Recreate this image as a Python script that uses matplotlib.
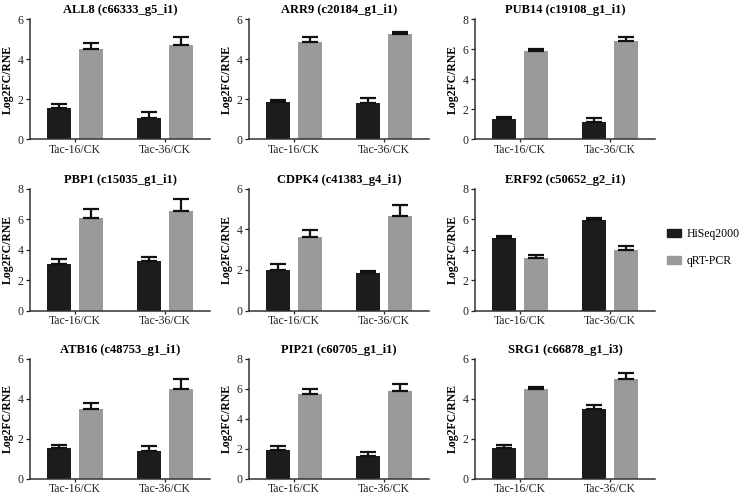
import matplotlib
matplotlib.use("Agg")
import matplotlib.pyplot as plt
import numpy as np
from matplotlib.patches import Patch

plt.rcParams['font.family'] = ['Liberation Serif', 'DejaVu Serif']

categories = ["Tac-16/CK", "Tac-36/CK"]
series_names = ["HiSeq2000", "qRT-PCR"]
titles = ["ALL8 (c66333_g5_i1)", "ARR9 (c20184_g1_i1)", "PUB14 (c19108_g1_i1)",
          "PBP1 (c15035_g1_i1)", "CDPK4 (c41383_g4_i1)", "ERF92 (c50652_g2_i1)",
          "ATB16 (c48753_g1_i1)", "PIP21 (c60705_g1_i1)", "SRG1 (c66878_g1_i3)"]
hiseq = [[1.57, 1.07], [1.83, 1.80], [1.31, 1.16],
         [3.07, 3.29], [2.02, 1.87], [4.75, 5.94],
         [1.53, 1.38], [1.91, 1.51], [1.55, 3.48]]
hiseq_err = [[0.16, 0.30], [0.13, 0.27], [0.13, 0.26],
             [0.33, 0.20], [0.27, 0.10], [0.18, 0.18],
             [0.17, 0.27], [0.29, 0.25], [0.13, 0.22]]
qpcr = [[4.50, 4.70], [4.87, 5.27], [5.89, 6.51],
        [6.12, 6.58], [3.62, 4.65], [3.45, 3.96],
        [3.47, 4.47], [5.64, 5.84], [4.48, 4.97]]
qpcr_err = [[0.30, 0.40], [0.23, 0.10], [0.11, 0.31],
            [0.55, 0.79], [0.34, 0.56], [0.22, 0.31],
            [0.33, 0.50], [0.36, 0.43], [0.12, 0.33]]
ymax = [6, 6, 8, 8, 6, 8, 6, 8, 6]

W, H = 745, 496
fig = plt.figure(figsize=(W / 100, H / 100), dpi=100)

col_left = [30, 249, 475]
row_bottom = [139, 310.5, 478.5]
row_top = [19, 189, 358.5]
ax_w = 180

black = "#1c1c1c"
grey = "#9a9a9b"
bw = 0.267
off = 0.183
x = np.arange(len(categories))

for i in range(9):
    r, c = divmod(i, 3)
    left = col_left[c]
    bot = row_bottom[r]
    top = row_top[r]
    ax = fig.add_axes([left / W, 1 - bot / H, ax_w / W, (bot - top) / H])
    ekw = dict(elinewidth=1.6, capthick=1.6, capsize=6, ecolor="#111111")
    ax.bar(x - off, hiseq[i], bw, color=black,
           yerr=[np.zeros(2), hiseq_err[i]], error_kw=ekw, zorder=2)
    ax.bar(x + off, qpcr[i], bw, color=grey,
           yerr=[np.zeros(2), qpcr_err[i]], error_kw=ekw, zorder=2)
    ax.set_xlim(-0.5, 1.5)
    ax.set_ylim(0, ymax[i])
    ax.set_yticks(np.arange(0, ymax[i] + 1, 2))
    ax.set_xticks(x)
    ax.set_xticklabels(categories, fontsize=8.5)
    ax.tick_params(axis='y', labelsize=8.5, length=3, width=0.9, pad=1.5, colors="#222222")
    ax.tick_params(axis='x', length=2.5, width=0.9, pad=1, colors="#222222")
    for s in ["top", "right"]:
        ax.spines[s].set_visible(False)
    for s in ["left", "bottom"]:
        ax.spines[s].set_linewidth(1.1)
        ax.spines[s].set_color("#333333")
    ax.set_ylabel("Log2FC/RNE", fontsize=8.5, fontweight="bold", labelpad=3)
    ax.set_title(titles[i], fontsize=9, fontweight="bold", pad=4)

handles = [Patch(facecolor=black, edgecolor=black), Patch(facecolor=grey, edgecolor=grey)]
fig.legend(handles, series_names, loc="center left",
           bbox_to_anchor=(662 / W, 1 - 247.5 / H), frameon=False,
           fontsize=8.5, handlelength=1.25, handleheight=0.7, labelspacing=1.3,
           handletextpad=0.45, borderaxespad=0)

fig.savefig("out.png", dpi=100, facecolor="white")
